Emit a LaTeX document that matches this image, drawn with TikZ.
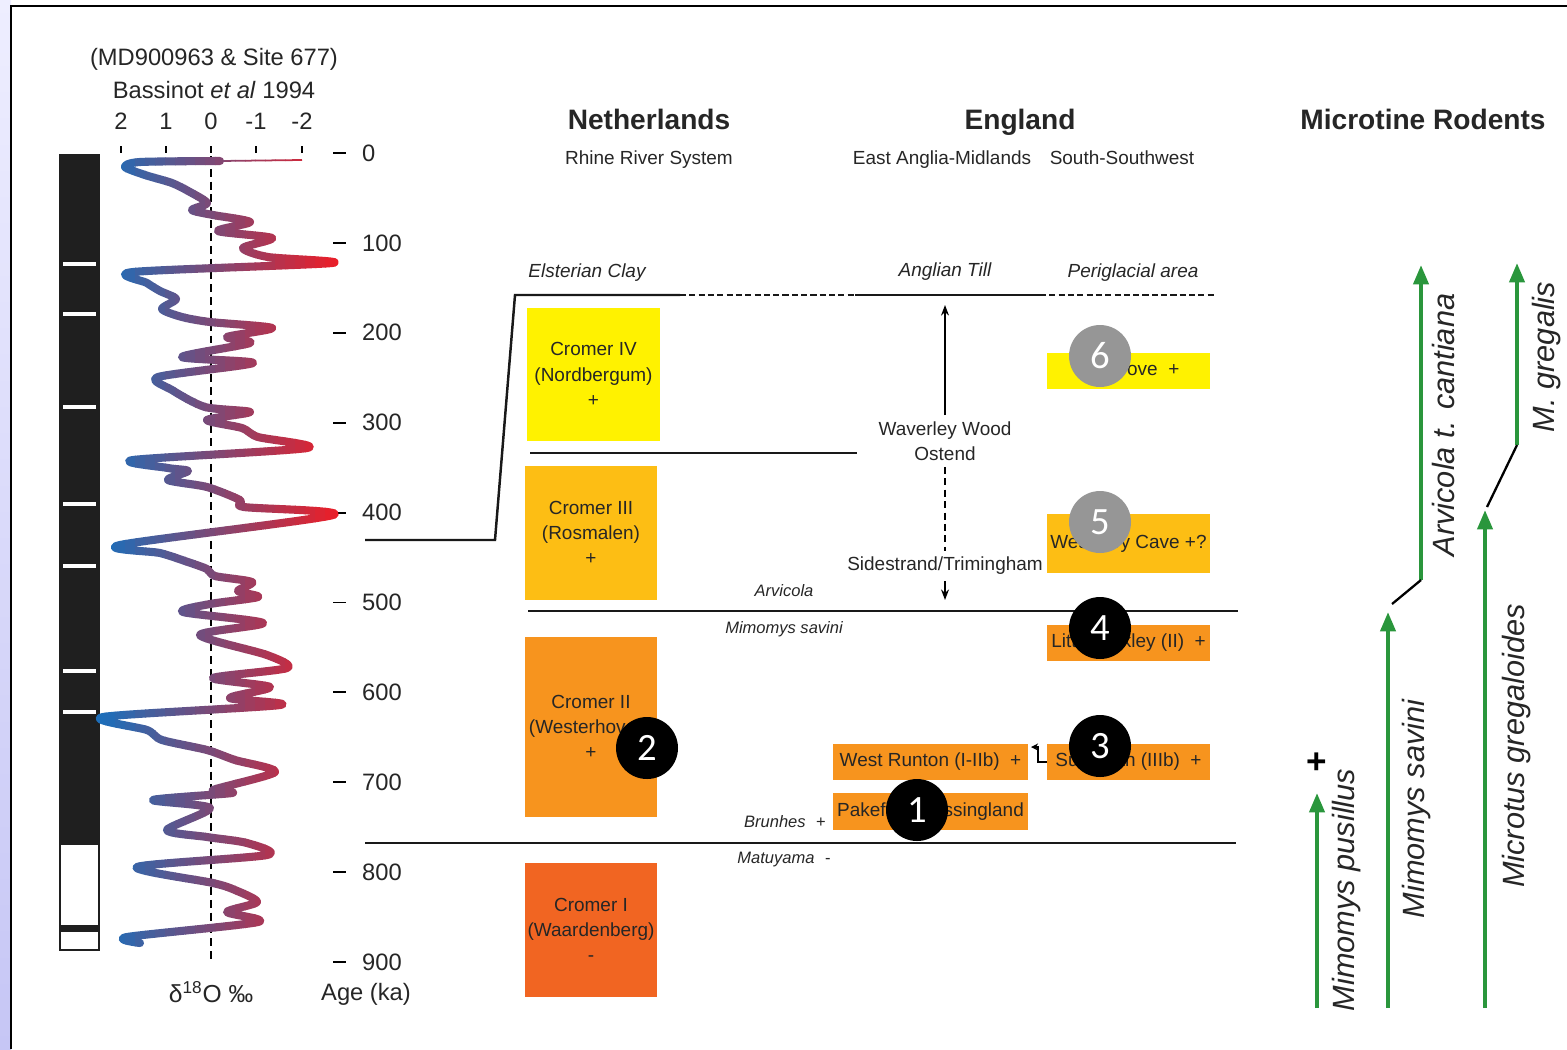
\documentclass[tikz,border=0pt]{standalone}
\usepackage{fontspec}
\setmainfont{Liberation Sans}
\newfontfamily\digfont{Carlito}
\usetikzlibrary{arrows.meta}

\definecolor{dblue}{RGB}{30,110,185}
\definecolor{dred}{RGB}{235,30,40}
\definecolor{cromerA}{RGB}{255,242,0}
\definecolor{cromerB}{RGB}{253,190,20}
\definecolor{cromerC}{RGB}{247,148,30}
\definecolor{cromerD}{RGB}{241,101,34}
\definecolor{rodgreen}{RGB}{42,150,60}
\definecolor{lavA}{RGB}{238,238,255}
\definecolor{lavB}{RGB}{198,198,245}
\definecolor{markgray}{RGB}{150,150,150}

\newcommand{\hdfont}{\fontsize{16}{19}\bfseries\selectfont}
\newcommand{\txfont}{\fontsize{10.8}{14.4}\selectfont}
\newcommand{\smfont}{\fontsize{9.4}{11}\itshape\selectfont}
\newcommand{\axfont}{\fontsize{13.5}{17}\selectfont}
\newcommand{\spfont}{\fontsize{17.5}{20}\itshape\selectfont}
\newcommand{\mkfont}{\digfont\fontsize{22}{22}\selectfont}
\newcommand{\gap}{\hspace{6pt}}

% oxygen isotope record, pixel coordinates (x = d18O, y = age)
\newcommand{\dcurve}{plot[smooth,tension=0.45] coordinates {
  (220,161) (140,162) (125,167) (145,175) (172,183) (190,192) (207,203)
  (192,210) (213,215) (250,222) (218,231) (272,238) (243,248) (268,257)
  (332,263) (133,272) (147,283) (160,291) (176,299) (162,309) (182,317)
  (210,322) (272,328) (227,337) (250,343) (182,357) (253,363) (158,377)
  (172,390) (205,407) (250,412) (207,420) (242,428) (258,437) (307,448)
  (133,460) (168,468) (188,471) (168,480) (207,487) (240,500) (244,507)
  (333,515) (120,545) (160,553) (185,561) (207,569) (215,576) (252,582)
  (238,591) (258,597) (210,604) (183,612) (263,623) (200,635) (267,655)
  (287,668) (213,678) (270,687) (230,698) (280,705) (103,717) (147,730)
  (162,740) (207,750) (235,760) (275,772) (213,790) (232,793) (153,800)
  (210,808) (167,830) (207,837) (247,843) (267,855) (137,867) (213,883)
  (235,890) (257,902) (227,912) (258,922) (127,937) (140,943)}}

\begin{document}
\begin{tikzpicture}[x=0.02cm,y=-0.02cm,
    boundary/.style={line width=1.4pt,black!90},
    dashbound/.style={boundary,dash pattern=on 3.5pt off 1.8pt},
    cromer/.style={minimum width=2.64cm,minimum height=2.68cm,inner sep=0pt,
                   align=center,font=\txfont,text=black!85},
    site/.style={minimum height=0.72cm,inner sep=0pt,align=center,
                 font=\txfont,text=black!85},
    marker/.style={circle,fill=black,text=white,minimum size=1.24cm,
                   inner sep=0pt,font=\mkfont},
    greymarker/.style={marker,fill=markgray},
    head/.style={font=\hdfont,text=black!85},
    sub/.style={font=\txfont,text=black!85},
    zone/.style={font=\txfont\itshape,text=black!85},
    faunal/.style={font=\smfont,text=black!85},
    axlabel/.style={font=\axfont,text=black!85},
    taxon/.style={font=\spfont,text=black!85,rotate=90},
    lineage/.style={line width=2.3pt,rodgreen,-{Triangle[length=11pt,width=8.5pt]}},
    o18curve/.style={line width=4.6pt,line cap=round,line join=round}]

  \useasboundingbox (0,0) rectangle (1567,1049);
  \shade[top color=lavA,bottom color=lavB] (0,0) rectangle (11,1049);
  \draw[line width=1.3pt] (11,1049) -- (11,6) -- (1567,6);

  % polarity column
  \fill[black!88] (60,155) rectangle (99,845);
  \foreach \y in {264,314,407,504,566,671,712}
    \fill[white] (63,\y-2) rectangle (96,\y+2);
  \fill[black!88] (60,925) rectangle (99,932);
  \draw[line width=1.2pt,black!88] (60,155) rectangle (99,950);

  % d18O scale
  \node[axlabel] (src)  at (214,59) {(MD900963 \& Site 677)};
  \node[axlabel] (bass) at (214,90) {Bassinot \textit{et al} 1994};
  \foreach \x/\v [count=\k] in {121/2,166/1,211/0,256/-1,302/-2}{
    \node[axlabel] (dval\k) at (\x,121) {\v};
    \draw[line width=1.2pt] (\x,146) -- (\x,153);
  }
  \draw[line width=1.1pt,dash pattern=on 4.5pt off 2.8pt] (211,156) -- (211,962);
  \node[axlabel,font=\fontsize{14}{17}\selectfont] (dunit) at (211,992) {δ\textsuperscript{18}O ‰};

  % age scale
  \foreach \a in {0,100,...,900}{
    \draw[line width=1.1pt] (333,153+0.899*\a) -- (346,153+0.899*\a);
    \node[axlabel,anchor=west] (age\a) at (356,153+0.899*\a) {\a};
  }
  \node[axlabel] (ageunit) at (366,994) {Age (ka)};

  % blue-to-red record
  \foreach \i in {0,...,24}{
    \pgfmathsetmacro\xa{95+10*\i}
    \pgfmathtruncatemacro\pc{max(0,min(100,(\xa-100)/2.3))}
    \begin{scope}
      \clip (\xa,140) rectangle (\xa+10.5,960);
      \draw[dred!\pc!dblue,line width=1pt] (302,160) -- (220,161);
      \draw[o18curve,dred!\pc!dblue] \dcurve;
    \end{scope}
  }

  % column heads
  \node[head] (neth) at (649,119) {Netherlands};
  \node[sub] (rhine) [below of=neth,node distance=0.82cm] {Rhine River System};
  \node[head] (eng) at (1020,122) {England};
  \node[sub] (eam) at (942,160) {East Anglia-Midlands};
  \node[sub] (ssw) at (1122,158) {South-Southwest};
  \node[head] (rod) at (1423,119) {Microtine Rodents};

  % boundaries
  \node[zone] (elst) at (587,273) {Elsterian Clay};
  \node[zone] (till) at (945,272) {Anglian Till};
  \node[zone] (peri) at (1133,273) {Periglacial area};
  \draw[boundary] (365,540) -- (495,540) -- (515,295) -- (680,295);
  \draw[dashbound] (680,295) -- (855,295);
  \draw[boundary] (855,295) -- (1040,295);
  \draw[dashbound] (1040,295) -- (1215,295);
  \draw[boundary] (530,453) -- (857,453);
  \draw[boundary] (528,611) -- (1238,611);
  \draw[boundary] (365,843) -- (1236,843);

  \node[faunal] (arv)  at (784,591) {Arvicola};
  \node[faunal] (msav) at (784,629) {Mimomys savini};
  \node[faunal] (brun) at (785,822) {Brunhes\gap\upshape+};
  \node[faunal] (matu) at (784,860) {Matuyama\gap\upshape-};

  % Netherlands
  \node[cromer,fill=cromerA,minimum width=2.66cm] (c4) at (593.5,374.5) {Cromer IV\\(Nordbergum)\\+};
  \node[cromer,fill=cromerB] (c3) at (591,533) {Cromer III\\(Rosmalen)\\+};
  \node[cromer,fill=cromerC,minimum height=3.6cm] (c2) at (591,727) {Cromer II\\(Westerhoven)\\+};
  \node[cromer,fill=cromerD] (c1) at (591,930) {Cromer I\\(Waardenberg)\\-};

  % England
  \node[font=\txfont,text=black!85,align=center] (wav) at (945,441) {Waverley Wood\\Ostend};
  \node[sub] (side) [below of=wav,node distance=2.5cm] {Sidestrand/Trimingham};
  \coordinate (tilltop) at (945,305);
  \coordinate (msavtop) at (945,600);
  \draw[line width=1.1pt,-{Stealth[length=6pt,width=4.5pt]}] (wav.north) -- (tilltop);
  \draw[line width=1.1pt,dash pattern=on 4pt off 2.5pt] (wav.south) -- (side.north);
  \draw[line width=1.1pt,-{Stealth[length=6pt,width=4.5pt]}] (side.south) -- (msavtop);

  \node[site,fill=cromerA,minimum width=3.26cm] (box) at (1128.5,371) {Boxgrove\gap+};
  \node[site,fill=cromerB,minimum width=3.26cm,minimum height=1.18cm] (wb) at (1128.5,543.5) {Westbury Cave +?};
  \node[site,fill=cromerC,minimum width=3.26cm] (lo) at (1128.5,643) {Little Oakley (II)\gap+};
  \node[site,fill=cromerC,minimum width=3.26cm] (sug) at (1128.5,762) {Sugworth (IIIb)\gap+};
  \node[site,fill=cromerC,minimum width=3.9cm] (wr) at (930.5,762) {West Runton (I-IIb)\gap+};
  \node[site,fill=cromerC,minimum width=3.9cm,minimum height=0.74cm] (pak) at (930.5,811.5) {Pakefield/Kessingland};
  \coordinate (wrtip) at (1031,747);
  \draw[line width=1pt,-{Stealth[length=4pt,width=4pt]}] (sug.west) -- ++(-9,0) |- (wrtip);

  % numbered markers
  \node[marker] (m1) at (917,810) {1};
  \node[marker] (m2) at (647,748) {2};
  \node[marker] (m3) at (1100,746) {3};
  \node[marker] (m4) at (1100,628) {4};
  \node[greymarker] (m5) at (1100,522) {5};
  \node[greymarker] (m6) at (1100,356) {6};

  % rodent lineages
  \coordinate (mp0) at (1317,1008);  \coordinate (mp1) at (1317,793);
  \coordinate (ms0) at (1388,1008);  \coordinate (ms1) at (1388,612);
  \coordinate (ac0) at (1421,580);   \coordinate (ac1) at (1421,265);
  \coordinate (mg0) at (1485,1008);  \coordinate (mg1) at (1485,510);
  \coordinate (gr0) at (1517,445);   \coordinate (gr1) at (1517,263);
  \draw[lineage] (mp0) -- (mp1);
  \draw[lineage] (ms0) -- (ms1);
  \draw[lineage] (ac0) -- (ac1);
  \draw[lineage] (mg0) -- (mg1);
  \draw[lineage] (gr0) -- (gr1);
  \draw[line width=1.3pt] (1392,604) -- (ac0);
  \draw[line width=1.3pt] (1487,507) -- (gr0);
  \node[font=\fontsize{20}{20}\bfseries\selectfont] (extinct) at (1317,763) {+};

  \node[taxon] (tpus) at (1347,890) {Mimomys pusillus};
  \node[taxon] (tsav) at (1417,809) {Mimomys savini};
  \node[taxon] (tcan) at (1443,425) {Arvicola t. cantiana};
  \node[taxon] (tgre) at (1517,746) {Microtus gregaloides};
  \node[taxon] (tgrl) at (1547,357) {M. gregalis};

\end{tikzpicture}
\end{document}
